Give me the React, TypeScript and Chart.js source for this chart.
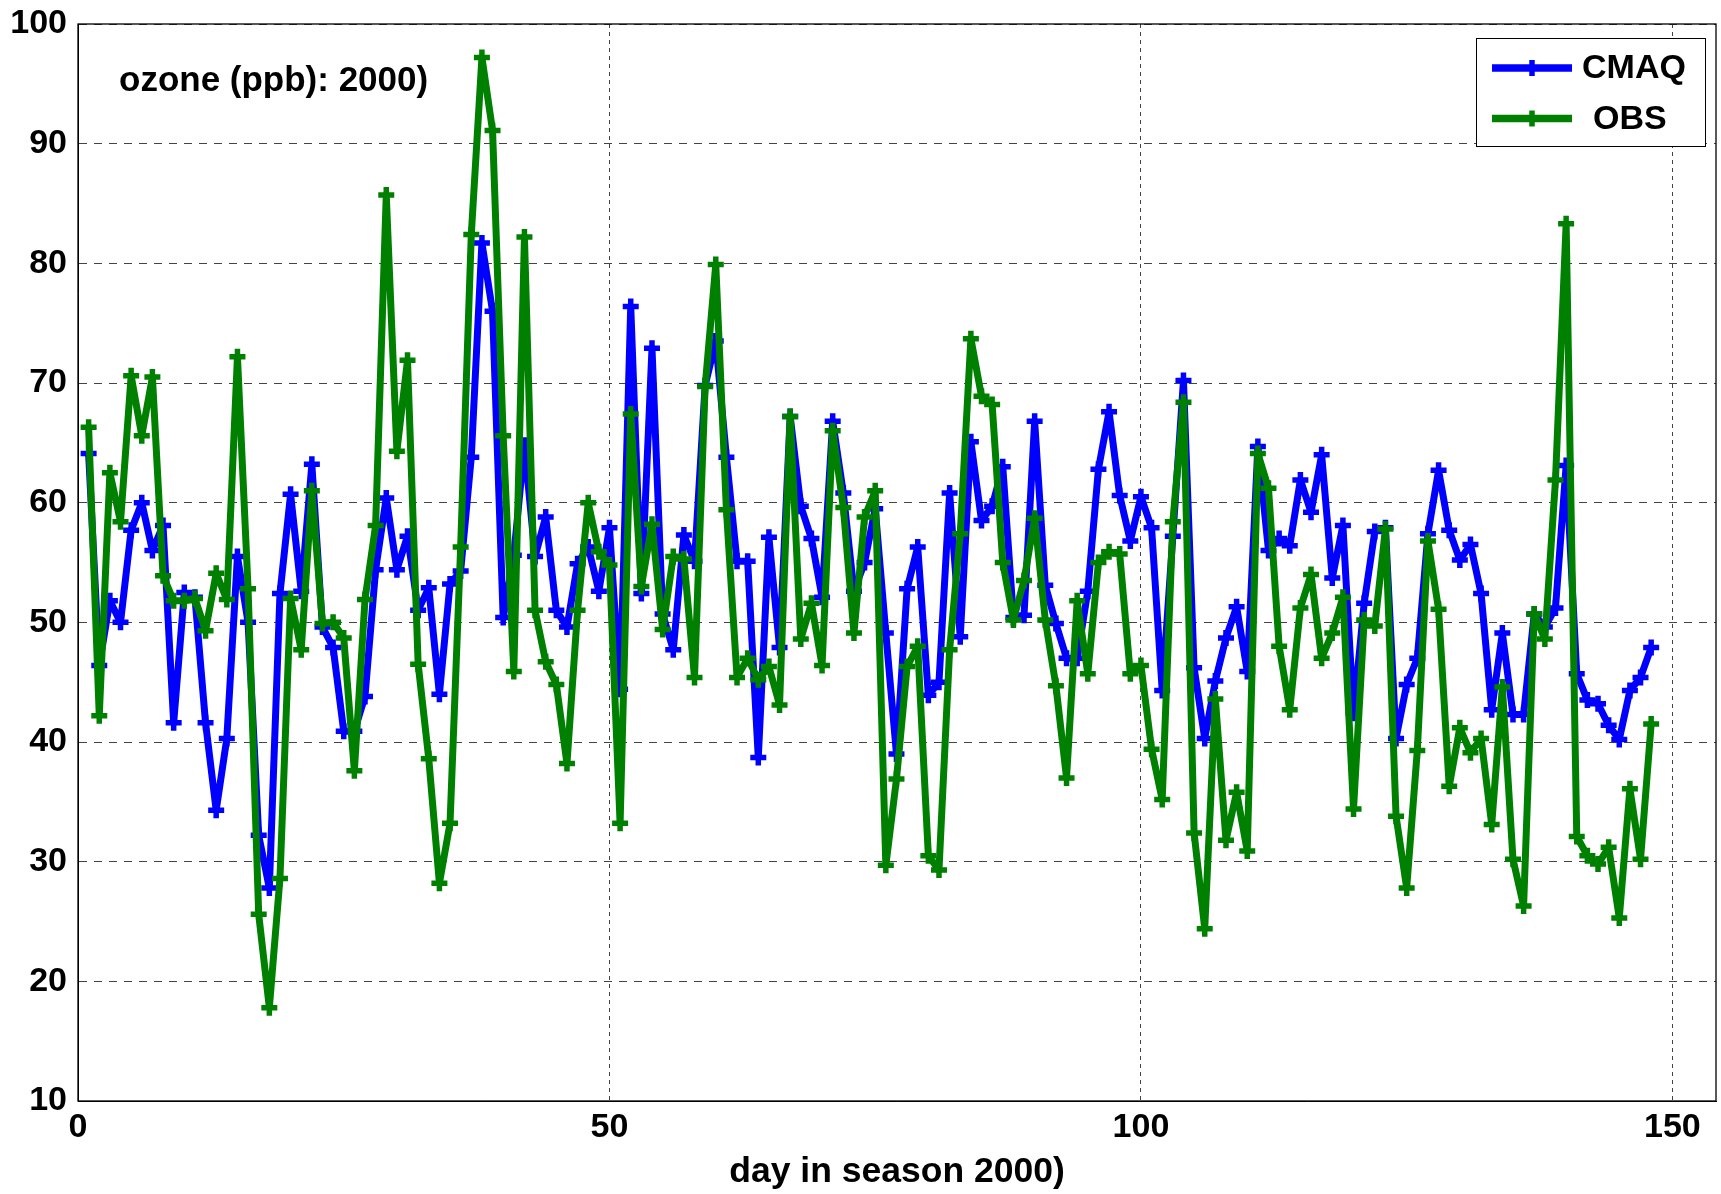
import React, { useEffect, useRef } from "react";
import { Chart, registerables } from "chart.js";

Chart.register(...registerables);

// Daily ozone (ppb), season 2000: model (CMAQ) vs observed (OBS), days 1..148
const CMAQ = [
  64.1, 46.4, 51.8, 50.0, 57.7, 60.0, 56.0, 58.1, 41.6, 52.5,
  52.1, 41.6, 34.3, 40.3, 55.5, 50.0, 32.2, 27.8, 52.4, 60.7,
  52.6, 63.2, 49.6, 47.9, 40.9, 40.9, 43.8, 54.4, 60.4, 54.4,
  57.2, 51.0, 52.9, 44.0, 53.2, 54.3, 63.8, 81.7, 76.0, 50.4,
  55.6, 64.8, 55.5, 58.8, 51.0, 49.6, 54.9, 56.3, 52.6, 57.9,
  44.4, 76.4, 52.4, 72.9, 50.7, 47.7, 57.3, 55.1, 69.8, 73.5,
  63.8, 55.1, 55.1, 38.7, 57.1, 47.9, 67.2, 59.7, 57.0, 52.1,
  66.8, 60.8, 52.6, 55.0, 59.5, 49.1, 39.0, 52.8, 56.3, 43.9,
  45.0, 60.8, 48.8, 65.1, 58.5, 59.7, 63.0, 50.4, 50.6, 66.8,
  53.1, 49.9, 47.0, 47.0, 52.6, 62.8, 67.6, 60.6, 56.8, 60.5,
  57.9, 44.3, 57.2, 70.2, 46.2, 40.3, 45.1, 48.7, 51.3, 45.9,
  64.7, 56.0, 57.0, 56.4, 61.9, 59.2, 64.0, 53.7, 58.1, 42.4,
  51.6, 57.6, 57.9, 40.3, 44.8, 47.0, 57.4, 62.7, 57.7, 55.2,
  56.5, 52.4, 42.7, 49.1, 42.3, 42.3, 50.7, 49.6, 51.2, 63.1,
  45.7, 43.5, 43.2, 41.4, 40.2, 44.3, 45.4, 47.9,
];

const OBS = [
  66.3, 42.2, 62.5, 58.4, 70.6, 65.6, 70.5, 53.9, 51.8, 51.8,
  52.0, 49.3, 54.1, 51.9, 72.2, 52.8, 25.6, 17.8, 28.6, 52.0,
  47.7, 61.0, 49.9, 50.0, 48.7, 37.6, 51.9, 58.1, 85.7, 64.3,
  71.9, 46.5, 38.6, 28.2, 33.2, 56.3, 82.4, 97.2, 91.1, 65.6,
  45.9, 82.2, 51.0, 46.7, 44.8, 38.2, 51.0, 60.0, 55.9, 54.8,
  33.2, 67.4, 53.0, 58.2, 49.4, 55.5, 55.3, 45.4, 69.7, 79.9,
  59.4, 45.4, 47.0, 45.2, 46.3, 43.1, 67.2, 48.6, 51.6, 46.4,
  66.0, 59.6, 49.1, 58.8, 61.0, 29.7, 36.9, 46.3, 48.0, 30.5,
  29.3, 47.7, 57.4, 73.7, 68.9, 68.2, 55.0, 50.2, 53.5, 58.7,
  50.2, 44.7, 37.0, 51.8, 45.7, 55.0, 55.9, 55.7, 45.7, 46.4,
  39.4, 35.2, 58.4, 68.4, 32.4, 24.4, 43.6, 31.8, 35.8, 30.9,
  64.1, 61.2, 48.0, 42.7, 51.2, 54.0, 47.0, 49.1, 52.1, 34.4,
  50.2, 49.7, 57.8, 33.8, 27.8, 39.3, 56.8, 51.1, 36.3, 41.2,
  39.1, 40.3, 33.1, 44.6, 30.2, 26.3, 50.7, 48.6, 61.9, 83.3,
  32.1, 30.5, 29.8, 31.2, 25.3, 36.1, 30.2, 41.5,
];

const SERIES_LABELS = ["CMAQ", "OBS"];
const SERIES_COLORS = ["#0000ff", "#008000"];
const X_TICKS = [0, 50, 100, 150];
const Y_TICKS = [10, 20, 30, 40, 50, 60, 70, 80, 90, 100];
const X_RANGE = [0, 154.1];
const Y_RANGE = [10, 100];
const PANEL_TEXT = "ozone (ppb): 2000)";
const X_TITLE = "day in season 2000)";

const FONT_FAMILY = "'Liberation Sans', Arial, Helvetica, sans-serif";
const W = 1721;
const H = 1194;

const toPoints = (vals: number[]) => vals.map((v, i) => ({ x: i + 1, y: v }));

// keep the plot box fixed: labels may hang outside the chart area
const clearScalePadding = (scale: any) => {
  scale.paddingLeft = 0;
  scale.paddingRight = 0;
  scale.paddingTop = 0;
  scale.paddingBottom = 0;
};

// Axes box, panel caption and a line+marker legend drawn on top of the plot
const decorations = {
  id: "decorations",
  afterDraw(chart: any) {
    const { ctx, chartArea } = chart;
    const { left, top, right, bottom } = chartArea;
    ctx.save();

    // axes box
    ctx.strokeStyle = "#000";
    ctx.lineWidth = 1.3;
    ctx.setLineDash([]);
    ctx.strokeRect(left, top, right - left, bottom - top);

    // panel caption
    ctx.fillStyle = "#000";
    ctx.font = `bold 35px ${FONT_FAMILY}`;
    ctx.textAlign = "left";
    ctx.textBaseline = "middle";
    ctx.fillText(PANEL_TEXT, 119, 81);

    // legend
    const bx = 1476.5, by = 38.5, bw = 229, bh = 108;
    ctx.fillStyle = "#fff";
    ctx.fillRect(bx, by, bw, bh);
    ctx.strokeStyle = "#000";
    ctx.lineWidth = 1;
    ctx.strokeRect(bx, by, bw, bh);
    const textX = [1582, 1593];
    chart.data.datasets.forEach((ds: any, i: number) => {
      const y = 68 + i * 50.5;
      ctx.strokeStyle = ds.borderColor;
      ctx.lineWidth = 7.5;
      ctx.lineCap = "butt";
      ctx.beginPath();
      ctx.moveTo(1492, y);
      ctx.lineTo(1572, y);
      ctx.stroke();
      ctx.lineWidth = 5.5;
      ctx.beginPath();
      ctx.moveTo(1532, y - 8);
      ctx.lineTo(1532, y + 8);
      ctx.moveTo(1524, y);
      ctx.lineTo(1540, y);
      ctx.stroke();
      ctx.fillStyle = "#000";
      ctx.font = `bold 34px ${FONT_FAMILY}`;
      ctx.textAlign = "left";
      ctx.textBaseline = "middle";
      ctx.fillText(ds.label, textX[i], y + 1);
    });
    ctx.restore();
  },
};

export default function App() {
  const canvasRef = useRef<HTMLCanvasElement | null>(null);

  useEffect(() => {
    document.body.style.margin = "0";
    const canvas = canvasRef.current;
    if (!canvas) return;
    const tickFont = { family: FONT_FAMILY, size: 34, weight: "bold" as const };

    const lineStyle = (color: string) => ({
      borderColor: color,
      backgroundColor: color,
      borderWidth: 7,
      borderJoinStyle: "round" as const,
      borderCapStyle: "round" as const,
      pointStyle: "cross" as const,
      pointRadius: 8,
      pointBorderWidth: 5.5,
      pointBorderColor: color,
      pointBackgroundColor: color,
      tension: 0,
    });

    const chart = new Chart(canvas, {
      type: "line",
      data: {
        datasets: [
          { label: SERIES_LABELS[0], data: toPoints(CMAQ), ...lineStyle(SERIES_COLORS[0]), order: 1 },
          { label: SERIES_LABELS[1], data: toPoints(OBS), ...lineStyle(SERIES_COLORS[1]), order: 0 },
        ],
      },
      options: {
        animation: false,
        responsive: false,
        devicePixelRatio: 1,
        layout: { autoPadding: false, padding: { top: 24, right: 5, left: 0, bottom: 0 } },
        plugins: {
          legend: { display: false },
          tooltip: { enabled: false },
          title: { display: false },
        },
        scales: {
          x: {
            type: "linear",
            min: X_RANGE[0],
            max: X_RANGE[1],
            afterBuildTicks: (scale: any) => {
              scale.ticks = X_TICKS.map((v) => ({ value: v }));
            },
            afterFit: (scale: any) => {
              scale.height = 93;
              clearScalePadding(scale);
            },
            ticks: {
              font: tickFont,
              color: "#000",
              padding: 6,
              maxRotation: 0,
              autoSkip: false,
            },
            grid: {
              color: "#444",
              lineWidth: 1,
              drawTicks: false,
            },
            border: { display: true, color: "#000", width: 1, dash: [4, 4] },
            title: {
              display: true,
              text: X_TITLE,
              font: { family: FONT_FAMILY, size: 35.5, weight: "bold" },
              color: "#000",
              padding: { top: 0, bottom: 0 },
            },
          },
          y: {
            type: "linear",
            min: Y_RANGE[0],
            max: Y_RANGE[1],
            afterBuildTicks: (scale: any) => {
              scale.ticks = Y_TICKS.map((v) => ({ value: v }));
            },
            afterFit: (scale: any) => {
              scale.width = 78;
              clearScalePadding(scale);
            },
            ticks: {
              font: tickFont,
              color: "#000",
              padding: 11,
              autoSkip: false,
            },
            grid: {
              color: "#444",
              lineWidth: 1,
              drawTicks: false,
            },
            border: { display: true, color: "#000", width: 1, dash: [8, 7] },
          },
        },
      },
      plugins: [decorations],
    });

    return () => chart.destroy();
  }, []);

  return (
    <div style={{ position: "fixed", left: 0, top: 0, width: W, height: H, background: "#fff" }}>
      <canvas ref={canvasRef} width={W} height={H} style={{ width: W, height: H, display: "block" }} />
    </div>
  );
}
